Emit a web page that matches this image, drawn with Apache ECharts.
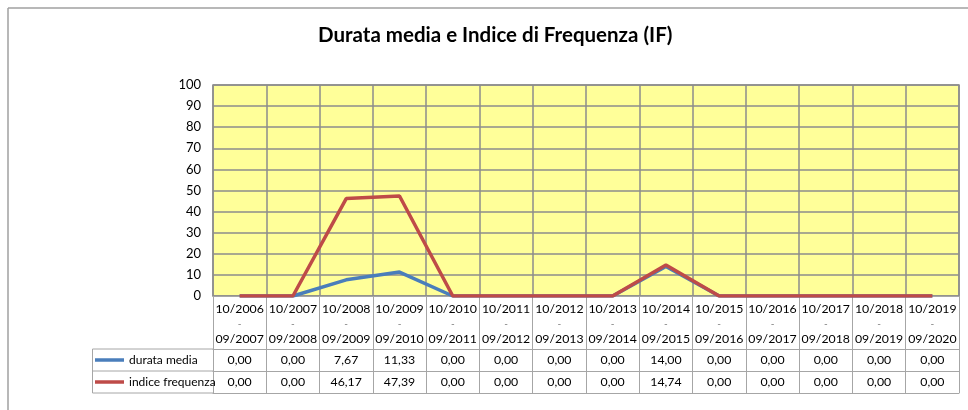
<!DOCTYPE html>
<html>
<head>
<meta charset="utf-8">
<script src="https://cdn.jsdelivr.net/npm/echarts@6/dist/echarts.min.js"></script>
<style>
html,body{margin:0;padding:0;background:#fff;}
#c{width:968px;height:410px;}
</style>
</head>
<body>
<div id="c"></div>
<script>
var periodStart = ['10/2006','10/2007','10/2008','10/2009','10/2010','10/2011','10/2012','10/2013','10/2014','10/2015','10/2016','10/2017','10/2018','10/2019'];
var periodEnd   = ['09/2007','09/2008','09/2009','09/2010','09/2011','09/2012','09/2013','09/2014','09/2015','09/2016','09/2017','09/2018','09/2019','09/2020'];
var durataMedia = [0, 0, 7.67, 11.33, 0, 0, 0, 0, 14.00, 0, 0, 0, 0, 0];
var indiceFrequenza = [0, 0, 46.17, 47.39, 0, 0, 0, 0, 14.74, 0, 0, 0, 0, 0];
var seriesNames = ['durata media', 'indice frequenza'];
var titleText = 'Durata media e Indice di Frequenza (IF)';
var yMin = 0, yMax = 100, yStep = 10;

var FONT = 'Lato, "Open Sans", sans-serif';
var GRID = '#8c8c8c';
var TBL = '#a6a6a6';
var categories = periodStart.map(function(s, i){ return s + '|' + periodEnd[i]; });
function fmt(v){ return v.toFixed(2).replace('.', ','); }

var gridLeft = 213, gridRight = 9, gridTop = 85, gridBottom = 114;
var axisY = 410 - gridBottom;

var chart = echarts.init(document.getElementById('c'), null, {renderer:'canvas'});
chart.setOption({
  backgroundColor: '#fff',
  animation: false,
  title: {
    text: titleText, left: 318, top: 25, padding: 0,
    textStyle: {fontFamily: FONT, fontWeight: 'bold', fontSize: 20.5, color: '#000'}
  },
  legend: {
    orient: 'vertical', left: 95, top: axisY + 53 + 3, padding: 0,
    icon: 'rect', itemWidth: 29, itemHeight: 3.5, itemGap: 6,
    selectedMode: false,
    textStyle: {fontFamily: FONT, fontSize: 12, color: '#000', lineHeight: 16},
    data: seriesNames
  },
  grid: {
    left: gridLeft, right: gridRight, top: gridTop, bottom: gridBottom,
    show: true, backgroundColor: '#ffff99', borderColor: GRID, borderWidth: 1.5
  },
  xAxis: [
    {
      type: 'category', data: categories, boundaryGap: true,
      axisLine: {show: true, lineStyle: {color: TBL, width: 1}},
      axisTick: {show: true, interval: 0, length: 97, lineStyle: {color: TBL, width: 1}},
      splitLine: {show: true, interval: 0, lineStyle: {color: GRID, width: 1.5}},
      axisLabel: {
        interval: 0, margin: 5,
        formatter: function(v){ var p = v.split('|'); return '{a|' + p[0] + '}\n{b|-}\n{a|' + p[1] + '}'; },
        rich: {
          a: {fontFamily: FONT, fontSize: 12.3, color: '#000', lineHeight: 16},
          b: {fontFamily: FONT, fontSize: 10, color: '#777', lineHeight: 14}
        }
      }
    },
    {
      type: 'category', data: durataMedia.map(fmt), position: 'bottom', offset: 53,
      axisLine: {show: true, lineStyle: {color: TBL, width: 1}},
      axisTick: {show: false}, splitLine: {show: false},
      axisLabel: {interval: 0, margin: 5, fontFamily: FONT, fontSize: 12.3, color: '#000'}
    },
    {
      type: 'category', data: indiceFrequenza.map(fmt), position: 'bottom', offset: 75,
      axisLine: {show: true, lineStyle: {color: TBL, width: 1}},
      axisTick: {show: false}, splitLine: {show: false},
      axisLabel: {interval: 0, margin: 5, fontFamily: FONT, fontSize: 12.3, color: '#000'}
    },
    {
      type: 'category', data: categories, position: 'bottom', offset: 97,
      axisLine: {show: true, lineStyle: {color: TBL, width: 1}},
      axisTick: {show: false}, splitLine: {show: false}, axisLabel: {show: false}
    }
  ],
  yAxis: {
    type: 'value', min: yMin, max: yMax, interval: yStep,
    axisLine: {show: false}, axisTick: {show: false},
    splitLine: {show: true, lineStyle: {color: GRID, width: 1.5}},
    axisLabel: {fontFamily: FONT, fontSize: 13, color: '#000', margin: 12}
  },
  graphic: [
    {type: 'line', shape: {x1: 8, y1: 8, x2: 968, y2: 8}, style: {stroke: '#a0a0a0', lineWidth: 1.5}, silent: true},
    {type: 'line', shape: {x1: 8, y1: 8, x2: 8, y2: 410}, style: {stroke: '#a0a0a0', lineWidth: 1.5}, silent: true},
    {type: 'polyline', shape: {points: [[gridLeft, axisY + 53], [92.5, axisY + 53], [92.5, axisY + 97], [gridLeft, axisY + 97]]}, style: {stroke: TBL, lineWidth: 1, fill: null}, silent: true},
    {type: 'line', shape: {x1: 92.5, y1: axisY + 75, x2: gridLeft, y2: axisY + 75}, style: {stroke: TBL, lineWidth: 1}, silent: true}
  ],
  series: [
    {name: seriesNames[0], type: 'line', data: durataMedia, symbol: 'none', color: '#4a7ebb', lineStyle: {width: 3.5, color: '#4a7ebb'}},
    {name: seriesNames[1], type: 'line', data: indiceFrequenza, symbol: 'none', color: '#be4b48', lineStyle: {width: 3.5, color: '#be4b48'}}
  ]
});
</script>
</body>
</html>
